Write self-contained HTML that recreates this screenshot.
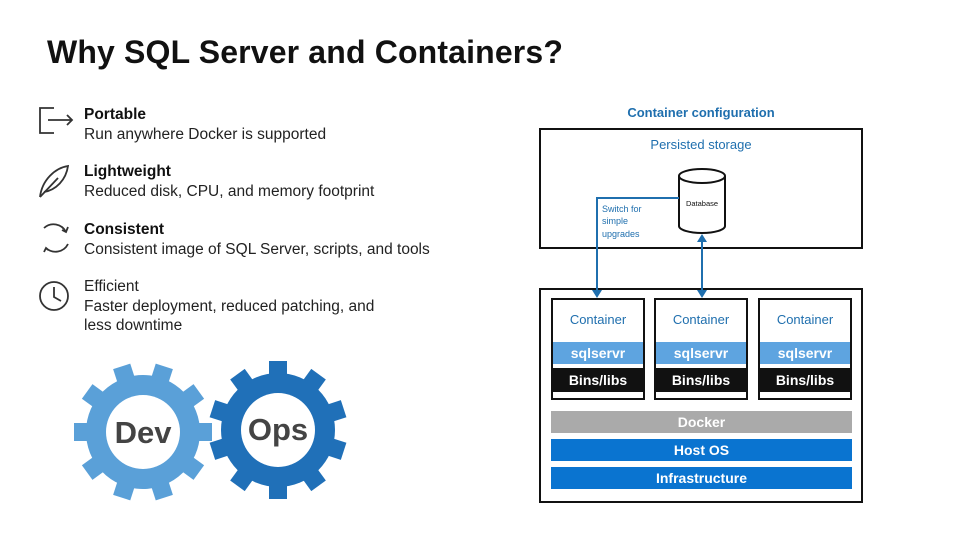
<!DOCTYPE html>
<html><head><meta charset="utf-8"><style>
body{margin:0;width:960px;height:540px;background:#fff;position:relative;overflow:hidden;font-family:"Liberation Sans",sans-serif}
.a{position:absolute}
h1{position:absolute;left:47px;top:34px;margin:0;font-size:32px;font-weight:bold;color:#111;letter-spacing:0.15px}
.t{position:absolute;left:84px;font-size:15.5px;color:#222;line-height:19.5px}
.t b{color:#111}
.c{position:absolute;border:2px solid #111;background:#fff}
.band{position:absolute;text-align:center;font-size:14px;font-weight:bold;color:#fff}
</style></head><body>
<h1>Why SQL Server and Containers?</h1>
<div class="t" style="top:105px"><b>Portable</b><br>Run anywhere Docker is supported</div>
<div class="t" style="top:162px"><b>Lightweight</b><br>Reduced disk, CPU, and memory footprint</div>
<div class="t" style="top:220px"><b>Consistent</b><br>Consistent image of SQL Server, scripts, and tools</div>
<div class="t" style="top:277px">Efficient<br>Faster deployment, reduced patching, and<br>less downtime</div>
<svg class="a" style="left:0;top:0" width="960" height="540">
<defs>
<g id="gear">
<circle r="57"/>
<rect x="-9" y="-69" width="18" height="16" transform="rotate(0)"/>
<rect x="-9" y="-69" width="18" height="16" transform="rotate(36)"/>
<rect x="-9" y="-69" width="18" height="16" transform="rotate(72)"/>
<rect x="-9" y="-69" width="18" height="16" transform="rotate(108)"/>
<rect x="-9" y="-69" width="18" height="16" transform="rotate(144)"/>
<rect x="-9" y="-69" width="18" height="16" transform="rotate(180)"/>
<rect x="-9" y="-69" width="18" height="16" transform="rotate(216)"/>
<rect x="-9" y="-69" width="18" height="16" transform="rotate(252)"/>
<rect x="-9" y="-69" width="18" height="16" transform="rotate(288)"/>
<rect x="-9" y="-69" width="18" height="16" transform="rotate(324)"/>
</g>
</defs>
<g fill="none" stroke="#333" stroke-width="1.8">
<path d="M54 108 H40 V133 H54"/><path d="M48 120 H72 M67 115 L72 120 L67 125"/>
<path d="M40 197 C42 180 55 168 68 166 C66 180 56 190 44 192"/><path d="M40 197 L58 178"/>
<path d="M44 228 A14 14 0 0 1 66 232"/><path d="M68 244 A14 14 0 0 1 46 248"/>
<path d="M62 230 L66 232 L68 227"/><path d="M48 250 L46 248 L44 252"/>
<circle cx="54" cy="296" r="14"/><path d="M54 287 V297 L61 301"/>
</g>
<use href="#gear" transform="translate(143 432) rotate(18)" fill="#5aa0d8"/>
<circle cx="143" cy="432" r="37" fill="#fff"/>
<use href="#gear" transform="translate(278 430)" fill="#2070b8"/>
<circle cx="278" cy="430" r="37" fill="#fff"/>
<text x="143" y="443" text-anchor="middle" font-size="31" font-weight="bold" fill="#444">Dev</text>
<text x="278" y="440" text-anchor="middle" font-size="31" font-weight="bold" fill="#444">Ops</text>
</svg>
<div class="a" style="left:540px;top:105px;width:322px;text-align:center;font-size:13px;font-weight:bold;color:#1f6fae">Container configuration</div>
<div class="c" style="left:539px;top:128px;width:320px;height:117px"></div>
<div class="a" style="left:540px;top:137px;width:322px;text-align:center;font-size:13px;color:#1f6fae">Persisted storage</div>
<div class="c" style="left:539px;top:288px;width:320px;height:211px"></div>
<div class="c" style="left:551px;top:298px;width:90px;height:98px"></div>
<div class="c" style="left:654px;top:298px;width:90px;height:98px"></div>
<div class="c" style="left:758px;top:298px;width:90px;height:98px"></div>
<div class="a" style="left:553px;top:312px;width:90px;text-align:center;font-size:13px;color:#1f6fae">Container</div>
<div class="a" style="left:656px;top:312px;width:90px;text-align:center;font-size:13px;color:#1f6fae">Container</div>
<div class="a" style="left:760px;top:312px;width:90px;text-align:center;font-size:13px;color:#1f6fae">Container</div>
<div class="band" style="left:553px;top:342px;width:90px;height:22px;line-height:22px;background:#5ea4e0">sqlservr</div>
<div class="band" style="left:656px;top:342px;width:90px;height:22px;line-height:22px;background:#5ea4e0">sqlservr</div>
<div class="band" style="left:760px;top:342px;width:90px;height:22px;line-height:22px;background:#5ea4e0">sqlservr</div>
<div class="band" style="left:553px;top:368px;width:90px;height:24px;line-height:24px;background:#111">Bins/libs</div>
<div class="band" style="left:656px;top:368px;width:90px;height:24px;line-height:24px;background:#111">Bins/libs</div>
<div class="band" style="left:760px;top:368px;width:90px;height:24px;line-height:24px;background:#111">Bins/libs</div>
<div class="band" style="left:551px;top:411px;width:301px;height:22px;line-height:22px;background:#aaa">Docker</div>
<div class="band" style="left:551px;top:439px;width:301px;height:22px;line-height:22px;background:#0a74d0">Host OS</div>
<div class="band" style="left:551px;top:467px;width:301px;height:22px;line-height:22px;background:#0a74d0">Infrastructure</div>
<svg class="a" style="left:0;top:0" width="960" height="540">
<g stroke="#111" stroke-width="2" fill="#fff">
<path d="M679 176 V226 A23 7 0 0 0 725 226 V176"/>
<ellipse cx="702" cy="176" rx="23" ry="7"/>
</g>
<text x="702" y="206" text-anchor="middle" font-size="7.5" fill="#111">Database</text>
<g stroke="#1f6fae" stroke-width="2" fill="none">
<path d="M679 198 H597 V292"/>
<path d="M702 240 V292"/>
</g>
<g fill="#1f6fae">
<path d="M592 290 L602 290 L597 298z"/>
<path d="M697 290 L707 290 L702 298z"/>
<path d="M697 242 L707 242 L702 234z"/>
</g>
<text font-size="9" fill="#1f6fae"><tspan x="602" y="212">Switch for</tspan><tspan x="602" y="224">simple</tspan><tspan x="602" y="237">upgrades</tspan></text>
</svg>
</body></html>
